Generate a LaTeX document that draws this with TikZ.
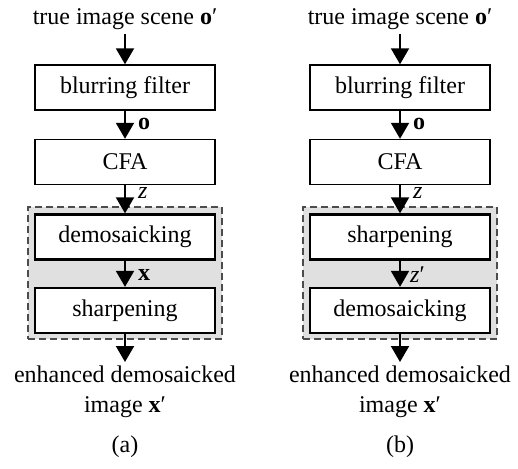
\documentclass[tikz,border=0pt]{standalone}
\usepackage{fontspec}
\setmainfont{Liberation Serif}
\usetikzlibrary{arrows.meta}
\begin{document}
\begin{tikzpicture}[x=1pt,y=-1pt,
  font=\fontsize{24}{30}\selectfont,
  blk/.style={draw, line width=1.4pt, minimum width=180pt, minimum height=45pt, inner sep=0pt, fill=white},
  iblk/.style={blk, line width=2.3pt},
  arr/.style={line width=2pt, -{Triangle[length=16pt,width=18pt]}},
  grp/.style={draw=black!70, dash pattern=on 7pt off 4pt, fill=black!12, line width=1.2pt, inner sep=0pt},
  lab/.style={inner sep=0pt, anchor=west},
  txt/.style={inner sep=0pt, align=center}]
\useasboundingbox (0,0) rectangle (518,468);
% ---------- (a) ----------
\node[txt, anchor=base] (ta) at (125,25) {true image scene \textbf{o}′};
\node[blk] (bfa) at (125,87.5) {blurring filter};
\node[blk] (cfa) at (125,162) {CFA};
\node[grp, minimum width=194pt, minimum height=132pt] (ga) at (125,273) {};
\node[iblk] (d1a) at (125,237) {demosaicking};
\node[iblk] (s1a) at (125,310.5) {sharpening};
\node[txt, anchor=north] (ea) at (125,366) {enhanced demosaicked\\image \textbf{x}′};
\node[txt] (capa) at (125,447) {(a)};
\draw[arr, shorten <=4pt] (ta) -- (bfa);
\draw[arr] (bfa) -- (cfa);
\draw[arr] (cfa) -- (d1a);
\draw[arr] (d1a) -- (s1a);
\draw[arr, shorten >=4pt] (s1a) -- (ea);
\node[lab] (loa) at (138,124) {\textbf{o}};
\node[lab] (lza) at (138,193) {\textit{z}};
\node[lab] (lxa) at (138,275) {\textbf{x}};
% ---------- (b) ----------
\node[txt, anchor=base] (tb) at (400,25) {true image scene \textbf{o}′};
\node[blk] (bfb) at (400,87.5) {blurring filter};
\node[blk] (cfb) at (400,162) {CFA};
\node[grp, minimum width=194pt, minimum height=132pt] (gb) at (400,273) {};
\node[iblk] (s1b) at (400,237) {sharpening};
\node[iblk] (d1b) at (400,310.5) {demosaicking};
\node[txt, anchor=north] (eb) at (400,366) {enhanced demosaicked\\image \textbf{x}′};
\node[txt] (capb) at (400,447) {(b)};
\draw[arr, shorten <=4pt] (tb) -- (bfb);
\draw[arr] (bfb) -- (cfb);
\draw[arr] (cfb) -- (s1b);
\draw[arr] (s1b) -- (d1b);
\draw[arr, shorten >=4pt] (d1b) -- (eb);
\node[lab] (lob) at (413,124) {\textbf{o}};
\node[lab] (lzb) at (413,193) {\textit{z}};
\node[lab] (lzpb) at (410,275) {\textit{z}′};
\end{tikzpicture}
\end{document}
